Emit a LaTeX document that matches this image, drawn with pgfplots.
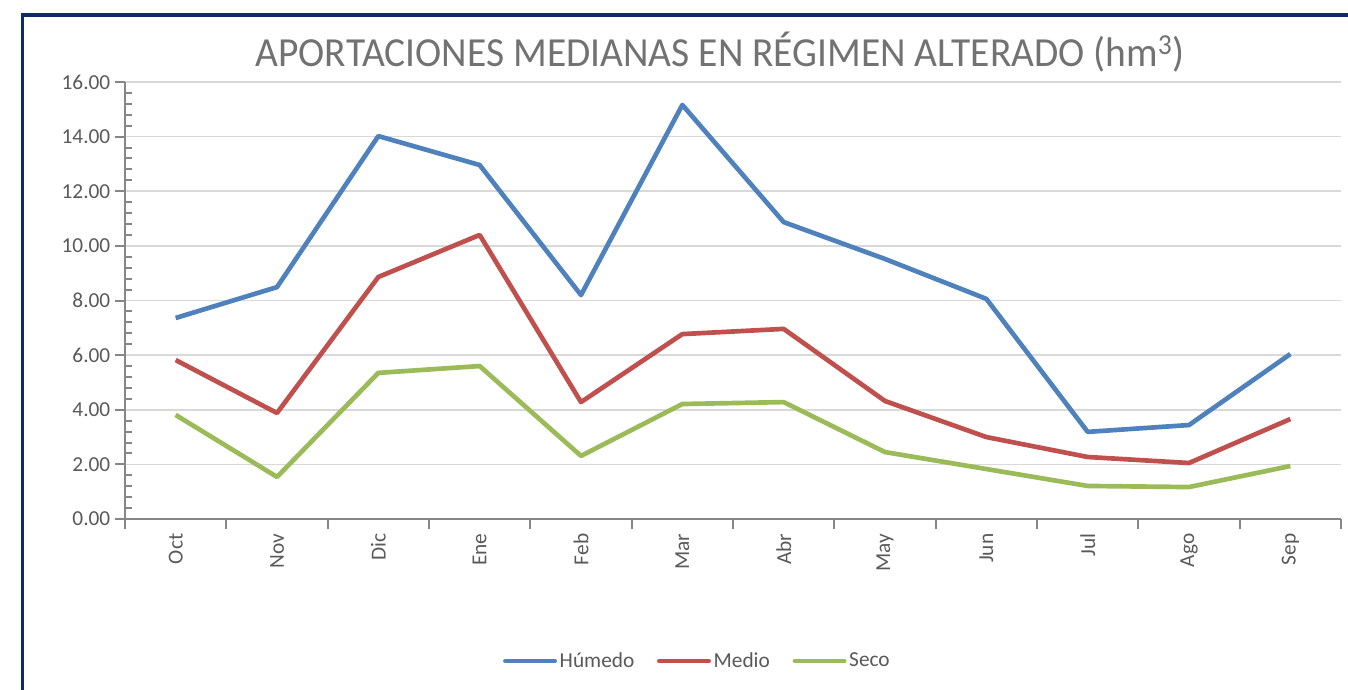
\documentclass[border=0pt]{standalone}
\usepackage{fontspec}
\setmainfont{Carlito}
\usepackage{pgfplots}
\pgfplotsset{compat=1.18}
\definecolor{cBlue}{HTML}{4F81BD}
\definecolor{cRed}{HTML}{C0504D}
\definecolor{cGreen}{HTML}{9BBB59}
\definecolor{txt}{HTML}{595959}
\definecolor{axgray}{HTML}{868686}
\definecolor{gridgray}{HTML}{D9D9D9}
\definecolor{navy}{HTML}{0E2A6A}
\begin{document}
\begin{tikzpicture}[x=1pt,y=1pt]
\useasboundingbox (0,0) rectangle (1011,516.75);
\begin{scope}
\clip (0,0) rectangle (1011,516.75);
\draw[navy, line width=2.6pt] (16.8,-20) rectangle (1060,505.5);
\end{scope}
\node[text=txt!85, font=\fontsize{31}{37}\selectfont] at (540,477.75) {\scalebox{0.955}[1]{APORTACIONES MEDIANAS EN RÉGIMEN ALTERADO (hm\textsuperscript{3})}};
\begin{axis}[
  at={(93.75pt,127.5pt)}, anchor=south west,
  scale only axis, width=912pt, height=327.75pt,
  xmin=-0.5, xmax=11.5, ymin=0, ymax=16,
  xtick={-0.5,0.5,...,11.5},
  x tick label as interval,
  xticklabels={Oct,Nov,Dic,Ene,Feb,Mar,Abr,May,Jun,Jul,Ago,Sep},
  ytick={0,2,...,16},
  minor y tick num=4,
  tick align=outside,
  major tick length=7.5pt,
  minor tick length=5pt,
  minor tick style={xshift=5pt, line width=1.5pt, draw=axgray},
  major tick style={line width=1.5pt, draw=axgray},
  axis x line*=bottom, axis y line*=left,
  axis line style={draw=axgray, line width=2pt, -},
  ymajorgrids, grid style={draw=gridgray, line width=1.2pt},
  tick label style={text=txt, font=\fontsize{16}{19}\selectfont},
  xticklabel style={rotate=90, anchor=east, yshift=0pt},
  yticklabel style={/pgf/number format/.cd, fixed, fixed zerofill, precision=2, assume math mode=true},
  legend columns=3,
  legend style={at={(0.471,-0.325)}, anchor=center, draw=none, fill=none,
    font=\fontsize{16}{19}\selectfont, text=txt,
    /tikz/every even column/.append style={column sep=15pt}},
  legend image code/.code={\draw[#1, line cap=round] (0pt,0pt) -- (37pt,0pt);},
  every axis plot/.append style={line width=3.5pt, line join=round},
]
\addplot[cBlue] coordinates {(0,7.36) (1,8.49) (2,14.02) (3,12.96) (4,8.2) (5,15.16) (6,10.87) (7,9.52) (8,8.06) (9,3.19) (10,3.44) (11,6.04)};
\addlegendentry{Húmedo}
\addplot[cRed] coordinates {(0,5.82) (1,3.88) (2,8.86) (3,10.4) (4,4.28) (5,6.77) (6,6.96) (7,4.32) (8,3.0) (9,2.27) (10,2.05) (11,3.66)};
\addlegendentry{Medio}
\addplot[cGreen] coordinates {(0,3.81) (1,1.54) (2,5.35) (3,5.6) (4,2.31) (5,4.21) (6,4.28) (7,2.45) (8,1.83) (9,1.21) (10,1.17) (11,1.94)};
\addlegendentry{Seco}
\end{axis}
\end{tikzpicture}
\end{document}
